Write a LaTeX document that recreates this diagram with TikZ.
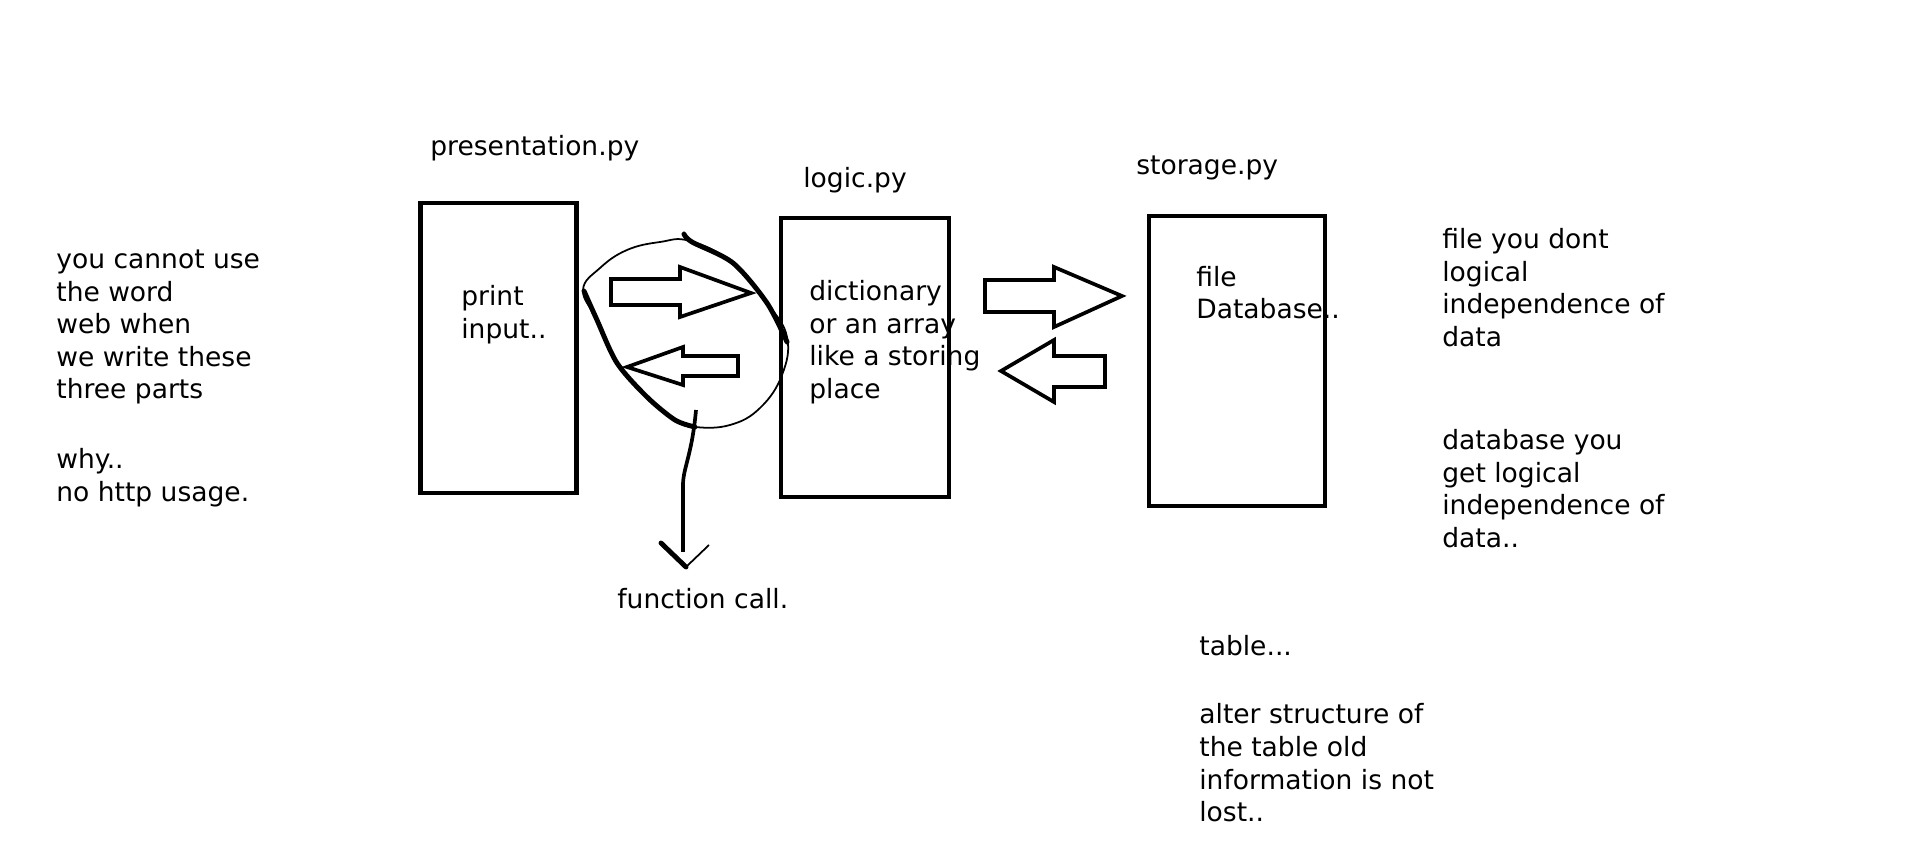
\documentclass[tikz,border=0pt]{standalone}
\usepackage{fontspec}
\setmainfont{DejaVu Sans}

\begin{document}
\begin{tikzpicture}
  [
    x=0.02cm, y=-0.02cm,
    box/.style  = {draw, line width=2.6pt, inner sep=0pt},
    note/.style = {anchor=base west, inner sep=0pt, font=\fontsize{15.1}{18.4}\selectfont},
    blk/.style  = {line width=2.1pt, line join=miter},
    loop/.style = {line width=1pt},
    hand/.style = {line width=2.8pt, line cap=round},
  ]

%Canvas, in pixels of the sketch
\fill[white] (0,0) rectangle (1914,847);

%Size of one pixel and distance of two lines of text
\def \px{0.02cm}
\def \lh{32.5}

%The three parts
\node[box, minimum width=156*\px, minimum height=290*\px] (pres)  at (498.7,348) {};
\node[box, minimum width=168*\px, minimum height=279*\px] (logic) at (865,357.5) {};
\node[box, minimum width=176*\px, minimum height=290*\px] (store) at (1237,361) {};

\node[note] (preslabel)  at (430,156)   {presentation.py};
\node[note] (logiclabel) at (803,187.5) {logic.py};
\node[note] (storelabel) at (1136,175)  {storage.py};

%Text inside the boxes
\foreach [count=\i] \t in {print,{input..}}
\node[note] (print\i) at (461,{306+(\i-1)*\lh}) {\t};

\foreach [count=\i] \t in {dictionary,or an array,like a storing,place}
\node[note] (dict\i) at (809,{301+(\i-1)*\lh}) {\t};

\foreach [count=\i] \t in {file,{Database..}}
\node[note] (file\i) at (1196,{286.5+(\i-1)*\lh}) {\t};

%Notes on the left
\foreach [count=\i] \t in {you cannot use,the word,web when,we write these,three parts}
\node[note] (web\i) at (56,{269+(\i-1)*\lh}) {\t};

\foreach [count=\i] \t in {{why..},{no http usage.}}
\node[note] (why\i) at (56,{469+(\i-1)*\lh}) {\t};

%Notes on the right
\foreach [count=\i] \t in {file you dont,logical,independence of,data}
\node[note] (nofile\i) at (1442,{248.6+(\i-1)*\lh}) {\t};

\foreach [count=\i] \t in {database you,get logical,independence of,{data..}}
\node[note] (nodb\i) at (1442,{450+(\i-1)*\lh}) {\t};

%Notes below storage
\node[note] (table) at (1199,656) {table...};
\foreach [count=\i] \t in {alter structure of,the table old,information is not,{lost..}}
\node[note] (alter\i) at (1199,{724+(\i-1)*\lh}) {\t};

%Block arrows presentation <-> logic
\draw[blk] (611,279) -- (680,279) -- (680,267) -- (751,293) -- (680,317) -- (680,305) -- (611,305) -- cycle;
\draw[blk] (627,367) -- (683,347) -- (683,356) -- (738,356) -- (738,376) -- (683,376) -- (683,385) -- cycle;

%Block arrows logic <-> storage
\draw[blk] (985,280) -- (1054,280) -- (1054,267) -- (1122,296) -- (1054,327) -- (1054,312) -- (985,312) -- cycle;
\draw[blk] (1001,371) -- (1054,340) -- (1054,356) -- (1105,356) -- (1105,387) -- (1054,387) -- (1054,402) -- cycle;

%Loop round the two calls
\draw[loop] plot[smooth cycle, tension=0.7] coordinates {(583,290) (600,268) (627,250) (660,242) (690,241) (733,263) (767,303) (787,337) (782,375) (760,408) (730,425) (695,427) (675,420) (647,397) (617,363) (597,320)};
\draw[hand] plot[smooth] coordinates {(684,234) (692,242) (733,263) (767,303) (787,342)};
\draw[hand] plot[smooth] coordinates {(695,427) (675,420) (647,397) (617,363) (597,320) (584,291)};

%Function call
\coordinate (callstart) at (696,410);
\coordinate (calltip)   at (686,567);
\draw[line width=2.1pt] (callstart) .. controls (692,455) and (683,468) .. (683,485) -- (683,552);
\draw[hand] (661,543) -- (calltip);
\draw[line width=1pt] (calltip) -- (709,545);
\node[note] (call) at (617,609) {function call.};

\end{tikzpicture}
\end{document}
